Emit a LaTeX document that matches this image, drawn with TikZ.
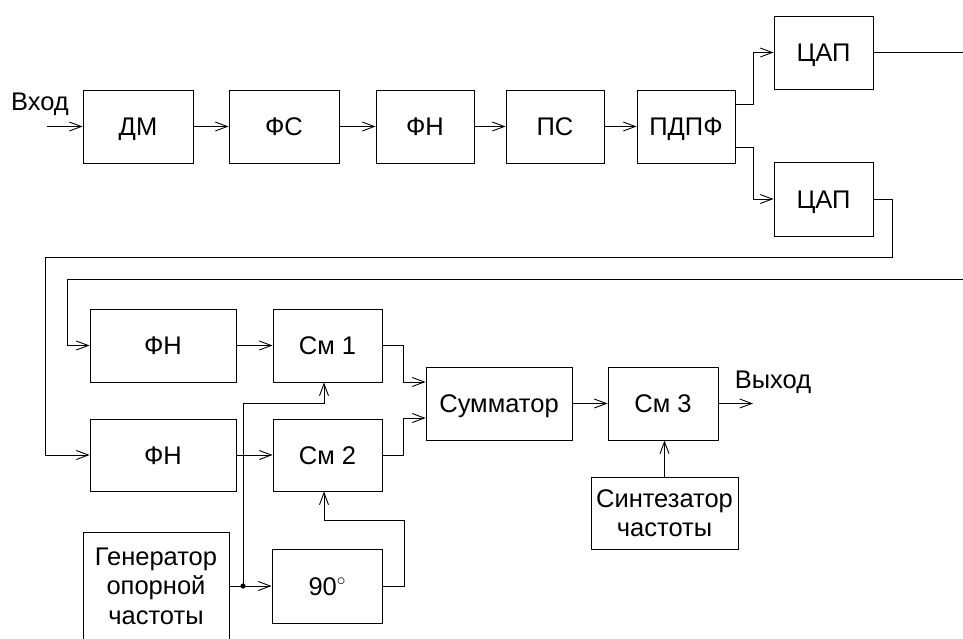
\documentclass[tikz,border=0pt]{standalone}
\usepackage{fontspec}
\setmainfont{Liberation Sans}
\usetikzlibrary{arrows.meta,calc}
\begin{document}
\begin{tikzpicture}[x=1pt,y=-1pt,
  blk/.style={draw,line width=0.9pt,inner sep=0pt,align=center,
    font=\fontsize{25.5}{29.5}\selectfont},
  one/.style={text height=18.3pt,text depth=0pt},
  arr/.style={line width=0.9pt,-{Straight Barb[length=12pt,width=9pt,line width=0.9pt]}},
  ln/.style={line width=0.9pt},
  lbl/.style={inner sep=0pt,font=\fontsize{25.5}{29.5}\selectfont}]
\useasboundingbox[fill=white] (0,0) rectangle (963,638);
\begin{scope}
\clip (0,0) rectangle (963,638);
% top row
\node[blk,one,minimum width=110pt,minimum height=73pt] (dm) at (138,126.5) {ДМ};
\node[blk,one,minimum width=110pt,minimum height=73pt] (fs) at (284,126.5) {ФС};
\node[blk,one,minimum width=98pt,minimum height=73pt] (fn) at (425,126.5) {ФН};
\node[blk,one,minimum width=98pt,minimum height=73pt] (ps) at (555,126.5) {ПС};
\node[blk,one,minimum width=98pt,minimum height=73pt] (pdpf) at (686,126.5) {ПДПФ};
\node[blk,one,minimum width=99pt,minimum height=73pt] (dac1) at (823.5,52.5) {ЦАП};
\node[blk,one,minimum width=99pt,minimum height=74pt] (dac2) at (823.5,199) {ЦАП};
% lower part
\node[blk,one,minimum width=146pt,minimum height=73pt] (fn1) at (163,345.5) {ФН};
\node[blk,one,minimum width=146pt,minimum height=72pt] (fn2) at (163,455) {ФН};
\node[blk,one,minimum width=109pt,minimum height=73pt] (sm1) at (327.5,345.5) {См 1};
\node[blk,one,minimum width=109pt,minimum height=72pt] (sm2) at (327.5,455) {См 2};
\node[blk,one,minimum width=146pt,minimum height=73pt] (sum) at (499,403.5) {Сумматор};
\node[blk,one,minimum width=110pt,minimum height=73pt] (sm3) at (663,403.5) {См 3};
\node[blk,minimum width=147pt,minimum height=72pt] (synth) at (664.5,513) {Синтезатор\\частоты};
\node[blk,minimum width=146pt,minimum height=108pt] (gen) at (156,586) {Генератор\\опорной\\частоты};
\node[blk,one,minimum width=110pt,minimum height=74pt] (deg) at (327,586) {90\raisebox{10pt}{$\scriptstyle\circ$}};
% labels
\coordinate (in) at (47,126.5);
\node[lbl] (inl) at (40,104) {Вход};
\coordinate (out) at (753,403.5);
\node[lbl] (outl) at (773,382) {Выход};
\coordinate (e1) at (963,52.5);
\coordinate (e2) at (963,279);
\coordinate (j) at (243,586);
% connectors
\draw[arr] (in) -- (dm.west);
\draw[arr] (dm) -- (fs);
\draw[arr] (fs) -- (fn);
\draw[arr] (fn) -- (ps);
\draw[arr] (ps) -- (pdpf);
\draw[arr] ($(pdpf.east)+(0,-22)$) -| ($(dac1.west)+(-20,0)$) -- (dac1.west);
\draw[arr] ($(pdpf.east)+(0,21)$) -| ($(dac2.west)+(-20,0)$) -- (dac2.west);
\draw[ln] (dac1.east) -- (e1);
\draw[arr] (e2) -| ($(fn1.west)+(-22,0)$) -- (fn1.west);
\draw[arr] (dac2.east) -- ++(19,0) -- ++(0,58) -| ($(fn2.west)+(-44,0)$) -- (fn2.west);
\draw[arr] (fn1) -- (sm1);
\draw[arr] (fn2) -- (sm2);
\draw[arr] (sm1.east) -| ($(sum.west)+(-22,-21.5)$) -- ($(sum.west)+(0,-21.5)$);
\draw[arr] (sm2.east) -| ($(sum.west)+(-22,14.5)$) -- ($(sum.west)+(0,14.5)$);
\draw[arr] (sum) -- (sm3);
\draw[arr] (sm3.east) -- (out);
\draw[arr] (synth.north) -- (synth.north |- sm3.south);
\draw[arr] (gen.east) -- (deg.west);
\fill (j) circle (2.6);
\draw[arr] (j) |- ($(sm1.south)+(-3.5,21)$) -- ($(sm1.south)+(-3.5,0)$);
\draw[arr] (deg.east) -- ++(22,0) |- ($(sm2.south)+(-3.5,29)$) -- ($(sm2.south)+(-3.5,0)$);
\end{scope}
\end{tikzpicture}
\end{document}
